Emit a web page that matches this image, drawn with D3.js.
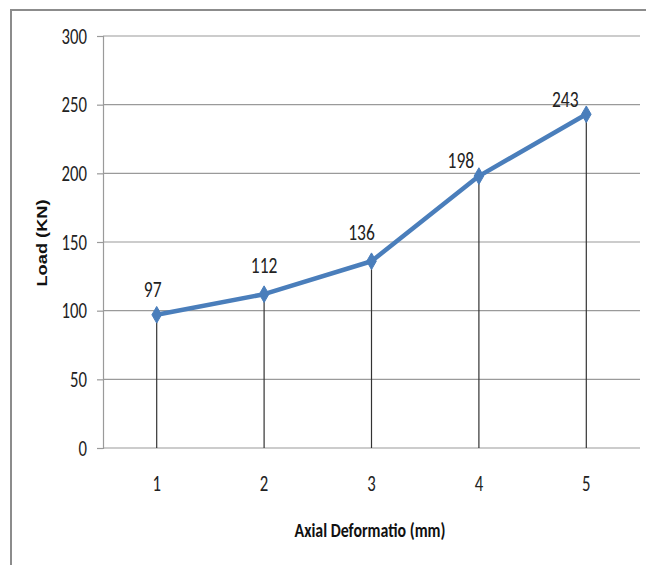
<!DOCTYPE html>
<html>
<head>
<meta charset="utf-8">
<script src="https://cdn.jsdelivr.net/npm/d3@7"></script>
<style>
  html, body { margin: 0; padding: 0; background: #fff; }
  svg { display: block; }
</style>
</head>
<body>
<svg id="chart" width="646" height="565"></svg>
<script>
// Load–deformation readings
const deformation = [1, 2, 3, 4, 5];
const load = [97, 112, 136, 198, 243];
const yTicks = [0, 50, 100, 150, 200, 250, 300];

const svg = d3.select("#chart");
const W = 646, H = 565;
const margin = { left: 103, right: 6, top: 36, bottom: 117 };
const plotRight = W - margin.right;
const plotBottom = H - margin.bottom;

const tickFont = "Carlito, 'Liberation Sans Narrow', 'DejaVu Sans Condensed', sans-serif";

// Squeeze text horizontally to a narrow face
function condense(sel, factor) {
  sel.each(function () {
    const w = this.getComputedTextLength();
    d3.select(this)
      .attr("textLength", w * factor)
      .attr("lengthAdjust", "spacingAndGlyphs");
  });
}

// Outer chart frame (runs off the right and bottom edges)
svg.append("rect")
  .attr("x", 11).attr("y", 10)
  .attr("width", 700).attr("height", 700)
  .attr("fill", "none")
  .attr("stroke", "#8c8c8c")
  .attr("stroke-width", 2);

const x = d3.scaleBand()
  .domain(deformation)
  .range([margin.left, plotRight]);

const y = d3.scaleLinear()
  .domain([0, 300])
  .range([plotBottom, margin.top]);

const cx = d => x(d) + x.bandwidth() / 2;

// Horizontal gridlines
svg.append("g")
  .selectAll("line")
  .data(yTicks)
  .join("line")
  .attr("x1", margin.left).attr("x2", plotRight)
  .attr("y1", d => y(d)).attr("y2", d => y(d))
  .attr("stroke", "#9a9a9a")
  .attr("stroke-width", 1.2);

// Value axis
const yAxis = svg.append("g")
  .attr("transform", `translate(${margin.left},0)`)
  .call(d3.axisLeft(y).tickValues(yTicks).tickSize(6).tickPadding(10));
yAxis.select(".domain").attr("stroke", "#9a9a9a").attr("stroke-width", 1.2);
yAxis.selectAll(".tick line").attr("stroke", "#9a9a9a").attr("stroke-width", 1.2);
yAxis.selectAll(".tick text")
  .attr("fill", "#222")
  .style("font-family", tickFont)
  .style("font-size", "22px")
  .call(condense, 0.76);

// Category axis
const xAxis = svg.append("g")
  .attr("transform", `translate(0,${plotBottom})`)
  .call(d3.axisBottom(x).tickSize(0).tickPadding(27));
xAxis.select(".domain").remove();
xAxis.selectAll(".tick text")
  .attr("fill", "#222")
  .style("font-family", tickFont)
  .style("font-size", "22px")
  .call(condense, 0.76);

// Drop lines from each reading to the baseline
svg.append("g")
  .selectAll("line")
  .data(deformation)
  .join("line")
  .attr("x1", d => cx(d)).attr("x2", d => cx(d))
  .attr("y1", (d, i) => y(load[i]))
  .attr("y2", y(0))
  .attr("stroke", "#333")
  .attr("stroke-width", 1.2);

// Load curve
const line = d3.line()
  .x((d, i) => cx(deformation[i]))
  .y(d => y(d));

svg.append("path")
  .datum(load)
  .attr("d", line)
  .attr("fill", "none")
  .attr("stroke", "#4a7ebb")
  .attr("stroke-width", 4.5)
  .attr("stroke-linejoin", "round");

// Diamond markers
svg.append("g")
  .selectAll("path")
  .data(load)
  .join("path")
  .attr("d", d3.symbol().type(d3.symbolDiamond).size(80))
  .attr("transform", (d, i) => `translate(${cx(deformation[i])},${y(d)})`)
  .attr("fill", "#4a7ebb")
  .attr("stroke", "#4a7ebb")
  .attr("stroke-width", 1);

// Value labels, nudged off the curve
const labelNudge = [[-4, -18], [0, -21], [-10, -21], [-18, -8], [-21, -7]];
svg.append("g")
  .selectAll("text")
  .data(load)
  .join("text")
  .attr("x", (d, i) => cx(deformation[i]) + labelNudge[i][0])
  .attr("y", (d, i) => y(d) + labelNudge[i][1])
  .attr("text-anchor", "middle")
  .attr("fill", "#222")
  .style("font-family", tickFont)
  .style("font-size", "23px")
  .text(d => d)
  .call(condense, 0.76);

// Axis titles
svg.append("text")
  .attr("x", 370).attr("y", 537)
  .attr("text-anchor", "middle")
  .attr("fill", "#111")
  .attr("textLength", 151)
  .attr("lengthAdjust", "spacingAndGlyphs")
  .style("font-family", tickFont)
  .style("font-weight", "bold")
  .style("font-size", "21px")
  .text("Axial Deformatio (mm)");

svg.append("text")
  .attr("transform", "translate(47,243) rotate(-90)")
  .attr("text-anchor", "middle")
  .attr("fill", "#111")
  .attr("textLength", 87)
  .attr("lengthAdjust", "spacingAndGlyphs")
  .style("font-family", "'Liberation Sans', Arial, sans-serif")
  .style("font-weight", "bold")
  .style("font-size", "15px")
  .text("Load (KN)");
</script>
</body>
</html>
